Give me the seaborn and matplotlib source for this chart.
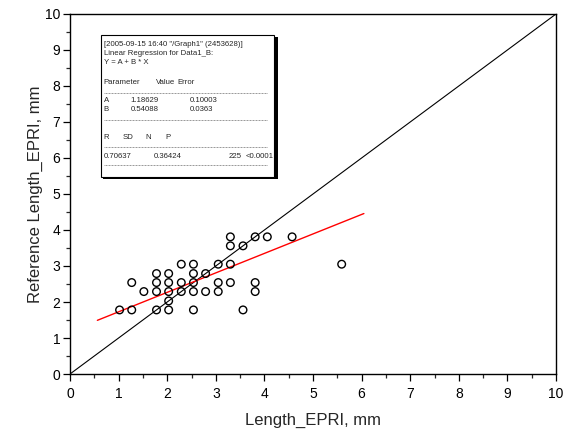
import matplotlib

matplotlib.use("Agg")
import matplotlib.pyplot as plt
import numpy as np
import pandas as pd
import seaborn as sns
from matplotlib.patches import Rectangle
from matplotlib.lines import Line2D
from matplotlib.ticker import MultipleLocator

# measured lengths (mm) sit on a 0.254 mm grid; listed row by row of reference length
length_epri = [3.30, 3.81, 4.06, 4.57,
               3.30, 3.56,
               2.29, 2.54, 3.05, 3.30, 5.59,
               1.78, 2.03, 2.54, 2.79,
               1.27, 1.78, 2.03, 2.29, 2.54, 3.05, 3.30, 3.81,
               1.52, 1.78, 2.03, 2.29, 2.54, 2.79, 3.05, 3.81,
               2.03,
               1.02, 1.27, 1.78, 2.03, 2.54, 3.56]
reference_length = [3.81, 3.81, 3.81, 3.81,
                    3.56, 3.56,
                    3.05, 3.05, 3.05, 3.05, 3.05,
                    2.79, 2.79, 2.79, 2.79,
                    2.54, 2.54, 2.54, 2.54, 2.54, 2.54, 2.54, 2.54,
                    2.29, 2.29, 2.29, 2.29, 2.29, 2.29, 2.29, 2.29,
                    2.03,
                    1.78, 1.78, 1.78, 1.78, 1.78, 1.78]

fit_a = 1.18629
fit_b = 0.54088

report_lines = [
    '[2005-09-15 16:40 "/Graph1" (2453628)]',
    "Linear Regression for Data1_B:",
    "Y = A + B * X",
]
param_header = ["Parameter", "Value", "Error"]
param_rows = [["A", "1.18629", "0.10003"], ["B", "0.54088", "0.0363"]]
stat_header = ["R", "SD", "N", "P"]
stat_row = ["0.70637", "0.36424", "225", "<0.0001"]

W, H = 572, 430

sns.set_style("ticks")
plt.rcParams["font.family"] = ["Liberation Sans", "DejaVu Sans"]

fig = plt.figure(figsize=(W / 100, H / 100), dpi=100)
ax = fig.add_axes([70 / W, 1 - 374 / H, 486 / W, 360 / H])

df = pd.DataFrame({"x": length_epri, "y": reference_length})

# y = x reference line
ax.plot([0, 10], [0, 10], color="black", lw=0.8, zorder=1)

# linear fit, drawn over data range extended by 10 % each side
x_lo, x_hi = df["x"].min(), df["x"].max()
span = x_hi - x_lo
fit_x = np.array([x_lo - 0.1 * span, x_hi + 0.1 * span])
ax.plot(fit_x, fit_a + fit_b * fit_x, color="red", lw=1.0, zorder=2)

sns.scatterplot(data=df, x="x", y="y", ax=ax, s=30, marker="o",
                facecolor="none", edgecolor="black", linewidth=1.0, zorder=3)

ax.set_xlim(0, 10)
ax.set_ylim(0, 10)
ax.xaxis.set_major_locator(MultipleLocator(1))
ax.yaxis.set_major_locator(MultipleLocator(1))
ax.xaxis.set_minor_locator(MultipleLocator(0.5))
ax.yaxis.set_minor_locator(MultipleLocator(0.5))
ax.tick_params(which="major", direction="out", length=5, width=0.9, labelsize=10, colors="black")
ax.tick_params(which="minor", direction="out", length=3, width=0.9)
ax.tick_params(axis="x", which="major", pad=4)
ax.tick_params(axis="y", which="major", pad=2)
for side in ax.spines.values():
    side.set_linewidth(1.0)
    side.set_color("black")

ax.set_xlabel("Length_EPRI, mm", fontsize=12)
ax.set_ylabel("Reference Length_EPRI, mm", fontsize=12)
ax.xaxis.set_label_coords(0.5, -0.108)
ax.yaxis.set_label_coords(-0.055, 0.5)


def fx(px):
    return px / W


def fy(py):
    return 1 - py / H


# regression report box with thin drop shadow
fig.add_artist(Rectangle((fx(103), fy(179)), (276 - 101) / W, (179 - 37) / H,
                         transform=fig.transFigure, facecolor="black", edgecolor="none", zorder=4))
fig.add_artist(Rectangle((fx(101), fy(177)), (274 - 101) / W, (177 - 35) / H,
                         transform=fig.transFigure, facecolor="white", edgecolor="black",
                         linewidth=0.8, zorder=5))

fs = 5.6
txt = dict(fontsize=fs, va="center", zorder=6, transform=fig.transFigure)
for i, line in enumerate(report_lines):
    fig.text(fx(103.5), fy(45 + 8.5 * i), line, **txt)

for label, xpos in zip(param_header, [103.5, 155.5, 177]):
    fig.text(fx(xpos), fy(82.5), label, **txt)
for j, row in enumerate(param_rows):
    for label, xpos in zip(row, [103.5, 130.5, 190]):
        fig.text(fx(xpos), fy(101 + 8.2 * j), label, **txt)

for label, xpos in zip(stat_header, [103.5, 122.5, 145, 165]):
    fig.text(fx(xpos), fy(137.5), label, **txt)
for label, xpos, ha in zip(stat_row, [103.5, 153.5, 241.5, 246], ["left", "left", "right", "left"]):
    fig.text(fx(xpos), fy(156), label, ha=ha, **txt)

for ypos in [92.5, 120, 146.5, 165]:
    fig.add_artist(Line2D([fx(104), fx(267)], [fy(ypos), fy(ypos)], transform=fig.transFigure,
                          color="#888888", lw=0.6, dashes=(1.2, 0.6), zorder=6))

fig.savefig("out.png", dpi=100)
